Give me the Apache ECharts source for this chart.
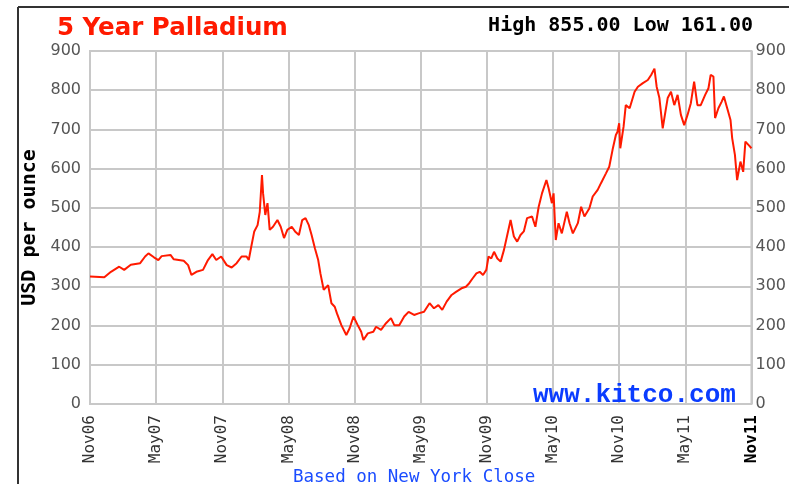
<!DOCTYPE html>
<html>
<head>
<meta charset="utf-8">
<script src="https://cdn.jsdelivr.net/npm/echarts@6/dist/echarts.min.js"></script>
<style>
  html, body { margin: 0; padding: 0; background: #fff; }
  #main { width: 789px; height: 484px; }
</style>
</head>
<body>
<div id="main"></div>
<script>
// months since Nov06
var months = [0, 0.1, 1.3, 1.9, 2.65, 3.1, 3.7, 4.55, 5.0, 5.3, 5.8, 6.2, 6.5, 7.3, 7.6, 8.5, 8.9, 9.2, 9.65, 10.25,
    10.7, 11.1, 11.45, 11.9, 12.4, 12.85, 13.3, 13.75, 14.2, 14.4, 14.6, 14.9, 15.2, 15.4, 15.6, 15.7, 15.9, 16.1, 16.3, 16.6,
    17.0, 17.3, 17.6, 17.9, 18.3, 18.6, 18.95, 19.25, 19.55, 19.85, 20.1, 20.4, 20.7, 20.9, 21.2, 21.6, 21.9, 22.2, 22.4, 22.8,
    23.25, 23.55, 23.9, 24.25, 24.6, 24.8, 25.2, 25.7, 25.95, 26.4, 26.85, 27.3, 27.6, 28.05, 28.5, 28.9, 29.4, 29.8, 30.3, 30.8,
    31.2, 31.6, 31.95, 32.35, 32.8, 33.2, 33.7, 34.1, 34.4, 34.7, 35.05, 35.35, 35.65, 35.95, 36.15, 36.4, 36.65, 36.95, 37.25, 37.55,
    37.85, 38.15, 38.45, 38.75, 39.05, 39.35, 39.65, 40.1, 40.4, 40.7, 41.0, 41.4, 41.6, 41.9, 42.05, 42.25, 42.5, 42.8, 43.25, 43.5,
    43.8, 44.25, 44.55, 44.85, 45.3, 45.6, 46.05, 46.35, 46.8, 47.1, 47.4, 47.7, 47.85, 48.0, 48.1, 48.4, 48.6, 48.95, 49.4, 49.7,
    50.15, 50.6, 50.9, 51.2, 51.4, 51.65, 51.95, 52.2, 52.4, 52.7, 53.0, 53.3, 53.6, 53.9, 54.2, 54.5, 54.8, 55.1, 55.4, 55.8,
    56.1, 56.3, 56.55, 56.7, 57.0, 57.3, 57.5, 57.8, 58.1, 58.25, 58.5, 58.7, 59.0, 59.25, 59.45, 59.75, 60];
var prices = [325, 329, 323, 337, 350, 342, 355, 359, 376, 384, 374, 367, 377, 380, 369, 365, 354, 329, 337, 342,
    367, 382, 367, 376, 354, 348, 359, 376, 376, 367, 397, 440, 456, 490, 584, 537, 482, 512, 444, 452,
    469, 452, 423, 444, 452, 440, 431, 469, 474, 456, 431, 397, 367, 333, 291, 303, 257, 248, 231, 201,
    176, 193, 223, 203, 184, 163, 180, 184, 197, 189, 206, 219, 201, 201, 223, 235, 227, 231, 235, 257,
    244, 252, 240, 261, 278, 286, 295, 299, 308, 320, 333, 337, 329, 342, 376, 371, 388, 371, 363, 393,
    431, 469, 427, 414, 431, 440, 474, 478, 452, 503, 537, 571, 550, 512, 537, 418, 461, 435, 490, 461,
    435, 461, 503, 478, 499, 529, 546, 563, 588, 605, 648, 686, 694, 716, 652, 707, 762, 754, 796, 809,
    818, 826, 839, 855, 809, 780, 703, 746, 780, 796, 762, 788, 737, 711, 737, 767, 822, 762, 762, 788,
    805, 839, 835, 729, 754, 771, 784, 754, 724, 678, 635, 571, 618, 592, 669, 660, 652];
var xLabels = ['Nov06', 'May07', 'Nov07', 'May08', 'Nov08', 'May09', 'Nov09', 'May10', 'Nov10', 'May11', 'Nov11'];

var seriesData = [];
for (var i = 0; i < months.length; i++) {
    seriesData.push([months[i], prices[i]]);
}

var myChart = echarts.init(document.getElementById('main'), null, { renderer: 'canvas' });
var option = {
    animation: false,
    backgroundColor: '#fff',
    title: {
        text: '5 Year Palladium',
        left: 52,
        top: 11,
        textStyle: {
            color: '#ff1a00',
            fontFamily: 'DejaVu Sans',
            fontWeight: 'bold',
            fontSize: 24.5
        }
    },
    grid: {
        left: 90,
        right: 28,
        top: 51,
        bottom: 80,
        show: true,
        borderColor: '#c8c8c8',
        borderWidth: 2
    },
    xAxis: {
        type: 'value',
        min: 0,
        max: 60,
        interval: 6,
        axisLine: { show: false },
        axisTick: { show: false },
        splitLine: { lineStyle: { color: '#c8c8c8', width: 2 } },
        axisLabel: {
            rotate: 90,
            margin: 11,
            color: '#333',
            fontFamily: 'DejaVu Sans Mono',
            fontSize: 16,
            formatter: function (v) {
                var idx = Math.round(v / 6);
                if (idx === xLabels.length - 1) {
                    return '{b|' + xLabels[idx] + '}';
                }
                return xLabels[idx];
            },
            rich: {
                b: { fontFamily: 'DejaVu Sans Mono', fontWeight: 'bold', fontSize: 16, color: '#000' }
            }
        }
    },
    yAxis: [
        {
            type: 'value',
            min: 0,
            max: 900,
            interval: 100,
            name: 'USD per ounce',
            nameLocation: 'middle',
            nameGap: 42,
            nameRotate: 90,
            nameTextStyle: {
                color: '#000',
                fontFamily: 'DejaVu Sans Mono',
                fontWeight: 'bold',
                fontSize: 20
            },
            axisLine: { show: false },
            axisTick: { show: false },
            splitLine: { lineStyle: { color: '#c8c8c8', width: 2 } },
            axisLabel: {
                margin: 9,
                color: '#555',
                fontFamily: 'DejaVu Sans',
                fontSize: 16
            }
        },
        {
            type: 'value',
            min: 0,
            max: 900,
            interval: 100,
            position: 'right',
            axisLine: { show: false },
            axisTick: { show: false },
            splitLine: { show: false },
            axisLabel: {
                margin: 4,
                color: '#555',
                fontFamily: 'DejaVu Sans',
                fontSize: 16
            }
        }
    ],
    series: [{
        type: 'line',
        data: seriesData,
        showSymbol: false,
        lineStyle: { color: '#ff1a00', width: 2 },
        z: 3
    }],
    graphic: [
        {
            type: 'line',
            shape: { x1: 18, y1: 7, x2: 789, y2: 7 },
            style: { stroke: '#333', lineWidth: 2 }
        },
        {
            type: 'line',
            shape: { x1: 18, y1: 7, x2: 18, y2: 484 },
            style: { stroke: '#333', lineWidth: 2 }
        },
        {
            type: 'text',
            right: 36,
            top: 16,
            style: {
                text: 'High 855.00 Low 161.00',
                fill: '#000',
                font: 'bold 20px "DejaVu Sans Mono"'
            }
        },
        {
            type: 'text',
            left: 533,
            top: 382,
            z: 10,
            style: {
                text: 'www.kitco.com',
                fill: '#0a3cff',
                font: 'bold 26px "Liberation Mono"'
            }
        },
        {
            type: 'text',
            left: 293,
            top: 468,
            style: {
                text: 'Based on New York Close',
                fill: '#1a4cff',
                font: '17.5px "DejaVu Sans Mono"'
            }
        }
    ]
};
myChart.setOption(option);
</script>
</body>
</html>
